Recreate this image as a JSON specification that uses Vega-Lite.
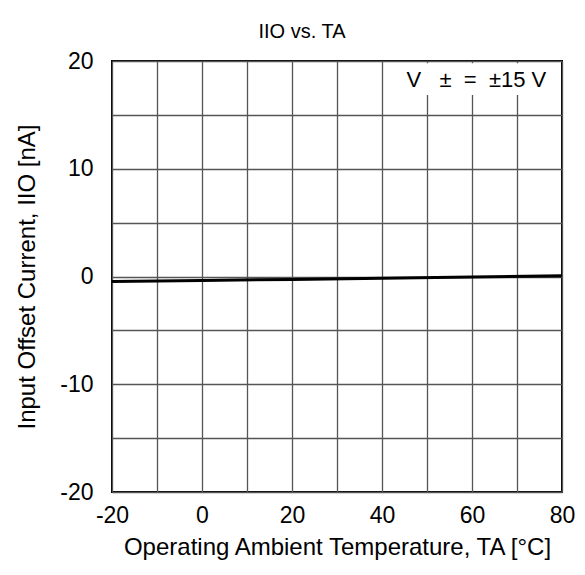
{
  "$schema": "https://vega.github.io/schema/vega-lite/v6.json",
  "width": 450,
  "height": 431,
  "autosize": "none",
  "padding": {"left": 112, "top": 61, "right": 23, "bottom": 83},
  "background": "white",
  "config": {
    "font": "Liberation Sans",
    "view": {"stroke": "black", "strokeWidth": 2},
    "axis": {"labelFont": "Liberation Sans", "titleFont": "Liberation Sans", "labelColor": "black", "titleColor": "black", "titleFontWeight": "normal", "labelFontSize": 23, "titleFontSize": 24, "ticks": false, "domain": false, "gridColor": "#555555", "gridWidth": 1.3, "gridOpacity": 1}
  },
  "title": {"text": "IIO vs. TA", "fontSize": 20, "fontWeight": "normal", "font": "Liberation Sans", "color": "black", "dx": -35, "offset": 8},
  "datasets": {
    "curve": [
      {"t": -20, "iio": -0.46},
      {"t": 0, "iio": -0.36},
      {"t": 20, "iio": -0.27},
      {"t": 40, "iio": -0.17},
      {"t": 60, "iio": -0.05},
      {"t": 80, "iio": 0.08}
    ],
    "note": [
      {"x1": 44, "x2": 78.5, "y1": 16.84, "y2": 19.8, "tx": 76.5, "ty": 18.25, "label": "V\u00a0\u00a0\u00a0±\u00a0\u00a0=\u00a0\u00a0±15\u00a0V"}
    ]
  },
  "layer": [
    {
      "data": {"name": "curve"},
      "mark": {"type": "line", "color": "black", "strokeWidth": 3, "clip": true},
      "encoding": {
        "x": {"field": "t", "type": "quantitative", "scale": {"domain": [-20, 80], "nice": false, "zero": false},
          "axis": {"values": [-20, -10, 0, 10, 20, 30, 40, 50, 60, 70, 80], "labelExpr": "datum.value % 20 === 0 ? toString(datum.value) : ''", "labelPadding": 12, "title": "Operating Ambient Temperature, TA [°C]", "titlePadding": 8, "labelFlush": false}},
        "y": {"field": "iio", "type": "quantitative", "scale": {"domain": [-20, 20], "nice": false, "zero": false},
          "axis": {"values": [-20, -15, -10, -5, 0, 5, 10, 15, 20], "labelExpr": "datum.value % 10 === 0 ? toString(datum.value) : ''", "labelPadding": 19, "title": "Input Offset Current, IIO [nA]", "titlePadding": 20, "labelFlush": false}}
      }
    },
    {
      "data": {"name": "note"},
      "mark": {"type": "rect", "color": "white"},
      "encoding": {
        "x": {"field": "x1", "type": "quantitative"},
        "x2": {"field": "x2"},
        "y": {"field": "y1", "type": "quantitative"},
        "y2": {"field": "y2"}
      }
    },
    {
      "data": {"name": "note"},
      "mark": {"type": "text", "align": "right", "baseline": "middle", "fontSize": 22, "font": "Liberation Sans", "color": "black"},
      "encoding": {
        "x": {"field": "tx", "type": "quantitative"},
        "y": {"field": "ty", "type": "quantitative"},
        "text": {"field": "label"}
      }
    }
  ]
}
